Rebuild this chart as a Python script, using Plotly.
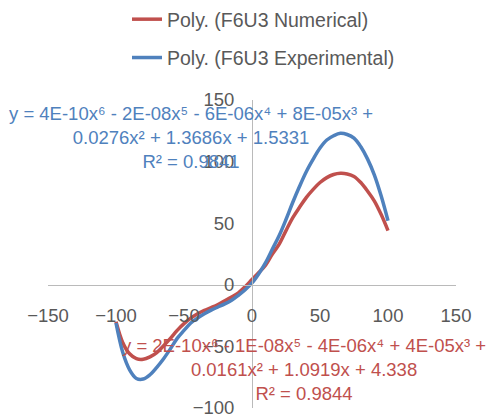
import plotly.graph_objects as go

x_vals = [-100, -95, -90, -85, -80, -75, -70, -65, -60, -55, -50, -45, -40, -35, -30,
          -25, -20, -15, -10, -5, 0, 5, 10, 15, 20, 25, 30, 35, 40, 45, 50, 55, 60,
          65, 70, 75, 80, 85, 90, 95, 100]

numerical = [-30, -47, -56, -60, -60.5, -58.5, -55, -49.5, -43.5, -37, -31.5, -27, -23.5,
             -20.8, -18.5, -16, -13, -10, -6.5, -1.5, 4.3, 10, 16, 25, 33, 44, 54.5, 63,
             71, 77.5, 83, 87, 89.5, 90.5, 90, 88, 83, 76, 68, 57, 44]

experimental = [-31, -55, -69, -76, -76.5, -73, -67, -60, -52, -43.5, -37, -31, -27, -23.5,
                -20.5, -18, -15.5, -12.5, -8.5, -4, 1.5, 9, 18, 29, 40, 53, 67, 80, 92,
                102, 111, 117.5, 121, 123, 122, 119, 112, 102, 89, 72, 52]

tick_vals_x = [-150, -100, -50, 0, 50, 100, 150]
tick_vals_y = [-100, -50, 0, 50, 100, 150]

name_num = "Poly. (F6U3 Numerical)"
name_exp = "Poly. (F6U3 Experimental)"
eq_exp = "y = 4E-10x⁶ - 2E-08x⁵ - 6E-06x⁴ + 8E-05x³ +<br>0.0276x² + 1.3686x + 1.5331<br>R² = 0.9841"
eq_num = "y = 2E-10x⁶ - 1E-08x⁵ - 4E-06x⁴ + 4E-05x³ +<br>0.0161x² + 1.0919x + 4.338<br>R² = 0.9844"

RED = "#C0504D"
BLUE = "#4F81BD"
FONT = "Liberation Sans, Arial, sans-serif"

fig = go.Figure()
fig.add_trace(go.Scatter(x=x_vals, y=numerical, mode="lines", name=name_num,
                         legendgroup="a",
                         line=dict(color=RED, width=3.5, shape="spline", smoothing=1)))
fig.add_trace(go.Scatter(x=x_vals, y=experimental, mode="lines", name=name_exp,
                         legendgroup="b",
                         line=dict(color=BLUE, width=3.5, shape="spline", smoothing=1)))

fig.add_annotation(x=-44.5, y=119.7, xref="x", yref="y", text=eq_exp, showarrow=False,
                   xanchor="center", yanchor="middle", align="center",
                   font=dict(family=FONT, size=18.5, color=BLUE))
fig.add_annotation(x=38.2, y=-68.5, xref="x", yref="y", text=eq_num, showarrow=False,
                   xanchor="center", yanchor="middle", align="center",
                   font=dict(family=FONT, size=18.5, color=RED))

axis_common = dict(showgrid=False, zeroline=False, showline=True, linecolor="#BABABA",
                   linewidth=1, ticks="", automargin=False,
                   tickfont=dict(family=FONT, size=18.5, color="#595959"),
                   ticklabelstandoff=14, anchor="free")

fig.update_xaxes(range=[-150, 150], tickvals=tick_vals_x, position=0.4, **axis_common)
fig.update_yaxes(range=[-100, 150], tickvals=tick_vals_y, position=0.5, **axis_common)

fig.update_layout(
    width=488, height=420,
    margin=dict(l=48, r=32, t=100, b=12, autoexpand=False),
    paper_bgcolor="white", plot_bgcolor="white",
    showlegend=True,
    legend=dict(xref="container", yref="container", x=127/488, y=1.0,
                xanchor="left", yanchor="top", tracegroupgap=10,
                font=dict(family=FONT, size=19.5, color="#595959"),
                bgcolor="rgba(0,0,0,0)"),
)

fig.write_html("out.html")
